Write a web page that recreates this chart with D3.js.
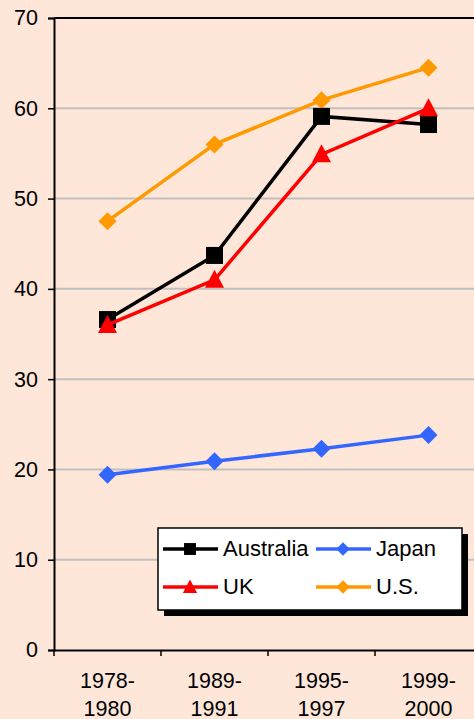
<!DOCTYPE html>
<html><head><meta charset="utf-8">
<script src="https://cdn.jsdelivr.net/npm/d3@7"></script>
<style>html,body{margin:0;padding:0;background:#FEE6D9;overflow:hidden}</style>
</head><body>
<svg id="c" width="474" height="719"></svg>
<script>
const categories = ["1978-\n1980", "1989-\n1991", "1995-\n1997", "1999-\n2000"];
const australia = [36.6, 43.7, 59.1, 58.2];
const japan = [19.4, 20.9, 22.3, 23.8];
const uk = [36.0, 41.0, 54.9, 60.0];
const us = [47.5, 56.0, 60.9, 64.5];
const yTicks = [0, 10, 20, 30, 40, 50, 60, 70];

const series = [
  {name: "Australia", values: australia, color: "#000000", marker: "square"},
  {name: "Japan", values: japan, color: "#3366FF", marker: "diamond"},
  {name: "UK", values: uk, color: "#FF0000", marker: "triangle"},
  {name: "U.S.", values: us, color: "#FF9900", marker: "diamond"}
];

const svg = d3.select("#c");
const W = 474, H = 719;
svg.append("rect").attr("width", W).attr("height", H).attr("fill", "#FEE6D9");
const m = {left: 54, top: 18, right: -8, bottom: 69};
const x = d3.scaleBand().domain(categories).range([m.left, W - m.right]);
const y = d3.scaleLinear().domain([0, 70]).range([H - m.bottom, m.top]);
const font = "'Liberation Sans', Arial, sans-serif";
const fs = 21.5;
const lfs = 22;

// gridlines
svg.append("g").selectAll("line").data(yTicks.filter(d => d > 0 && d < 70)).join("line")
  .attr("x1", m.left).attr("x2", W - m.right)
  .attr("y1", d => y(d)).attr("y2", d => y(d))
  .attr("stroke", "#C0C0C0").attr("stroke-width", 2);

// top border
svg.append("line").attr("x1", m.left).attr("x2", W - m.right).attr("y1", y(70)).attr("y2", y(70))
  .attr("stroke", "#000").attr("stroke-width", 2);

// y axis
const ya = svg.append("g").attr("transform", `translate(${m.left},0)`)
  .call(d3.axisLeft(y).tickValues(yTicks).tickSize(6).tickPadding(10));
ya.select(".domain").attr("stroke-width", 2);
ya.selectAll(".tick line").attr("stroke-width", 1.5);
ya.selectAll("text").attr("font-family", font).attr("font-size", fs).attr("fill", "#000");

// x axis
const xa = svg.append("g").attr("transform", `translate(0,${y(0)})`)
  .call(d3.axisBottom(x).tickSize(0).tickFormat(""));
xa.select(".domain").attr("stroke-width", 2);
xa.selectAll(".tick").remove();
// category separators
const sep = [m.left].concat(categories.slice(1).map(c => x(c)));
svg.append("g").selectAll("line").data(sep).join("line")
  .attr("x1", d => d).attr("x2", d => d).attr("y1", y(0)).attr("y2", y(0) + 6)
  .attr("stroke", "#000").attr("stroke-width", 1.5);
// labels
const xl = svg.append("g").selectAll("text").data(categories).join("text")
  .attr("x", d => x(d) + x.bandwidth() / 2).attr("y", y(0) + 38)
  .attr("text-anchor", "middle").attr("font-family", font).attr("font-size", fs).attr("fill", "#000");
xl.each(function(d) {
  const parts = d.split("\n");
  d3.select(this).selectAll("tspan").data(parts).join("tspan")
    .attr("x", x(d) + x.bandwidth() / 2).attr("dy", (p, i) => i === 0 ? 0 : 27.5).text(p => p);
});

function markerPath(type) {
  if (type === "square") return d3.symbol(d3.symbolSquare, 289)();
  if (type === "triangle") return "M0,-10L9.5,8L-9.5,8Z";
  return "M0,-9L9,0L0,9L-9,0Z";
}

const line = d3.line().x((d, i) => x(categories[i]) + x.bandwidth() / 2).y(d => y(d));
const order = [series[1], series[3], series[0], series[2]];
order.forEach(s => {
  svg.append("path").attr("d", line(s.values)).attr("fill", "none")
    .attr("stroke", s.color).attr("stroke-width", 3.5);
  svg.append("g").selectAll("path").data(s.values).join("path")
    .attr("transform", (d, i) => `translate(${x(categories[i]) + x.bandwidth() / 2},${y(d)})`)
    .attr("d", markerPath(s.marker)).attr("fill", s.color);
});

// legend
const lg = svg.append("g");
const lx = 158, ly = 528, lw = 304, lh = 82;
lg.append("rect").attr("x", lx + 6).attr("y", ly + 6).attr("width", lw).attr("height", lh).attr("fill", "#000");
lg.append("rect").attr("x", lx).attr("y", ly).attr("width", lw).attr("height", lh)
  .attr("fill", "#fff").attr("stroke", "#000").attr("stroke-width", 1.5);
const pos = [[163, 549], [316, 549], [163, 587], [316, 587]];
series.forEach((s, i) => {
  const [px, py] = pos[i];
  lg.append("line").attr("x1", px).attr("x2", px + 55).attr("y1", py).attr("y2", py)
    .attr("stroke", s.color).attr("stroke-width", 3.5);
  lg.append("path").attr("transform", `translate(${px + 27},${py}) scale(${s.marker === "square" ? 0.7 : 0.75})`)
    .attr("d", markerPath(s.marker)).attr("fill", s.color);
  lg.append("text").attr("x", px + 60).attr("y", py + 7).attr("font-family", font).attr("font-size", lfs)
    .attr("fill", "#000").text(s.name);
});
</script>
</body></html>
